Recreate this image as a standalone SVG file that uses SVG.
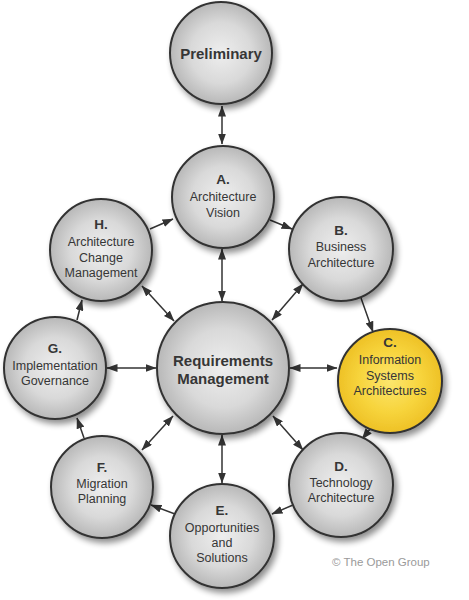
<svg xmlns="http://www.w3.org/2000/svg" width="469" height="600" viewBox="0 0 469 600">
<defs>
<radialGradient id="gGray" cx="50%" cy="50%" r="50%">
<stop offset="0" stop-color="#eeeeee"/>
<stop offset="0.6" stop-color="#d9d9d9"/>
<stop offset="1" stop-color="#b8b8b8"/>
</radialGradient>
<radialGradient id="gYel" cx="50%" cy="50%" r="50%">
<stop offset="0" stop-color="#fce66e"/>
<stop offset="0.6" stop-color="#f7d43c"/>
<stop offset="1" stop-color="#eec126"/>
</radialGradient>
<filter id="sh" x="-20%" y="-20%" width="150%" height="150%">
<feGaussianBlur in="SourceAlpha" stdDeviation="3"/>
<feOffset dx="3" dy="4" result="b"/>
<feComponentTransfer><feFuncA type="linear" slope="0.45"/></feComponentTransfer>
<feMerge><feMergeNode/><feMergeNode in="SourceGraphic"/></feMerge>
</filter>
<marker id="ah" viewBox="0 0 11 8" refX="10.5" refY="4" markerWidth="11" markerHeight="8" markerUnits="userSpaceOnUse" orient="auto-start-reverse">
<path d="M0,0 L11,4 L0,8 z" fill="#333"/>
</marker>
</defs>
<style>
.n{fill:url(#gGray);stroke:#333;stroke-width:2;filter:url(#sh)}
.y{fill:url(#gYel)}
.t{font-family:"Liberation Sans",Arial,sans-serif;font-size:12.5px;fill:#363636;text-anchor:middle}
.b{font-weight:bold;font-size:13.5px}
.bb{font-family:"Liberation Sans",Arial,sans-serif;font-weight:bold;font-size:15px;fill:#363636;text-anchor:middle}
.c line{stroke:#333;stroke-width:1.5;fill:none}
.s{marker-end:url(#ah)}
.d{marker-start:url(#ah);marker-end:url(#ah)}
</style>
<rect width="469" height="600" fill="#fff"/>
<g id="connectors" class="c">
<line class="d" x1="222" y1="106" x2="222" y2="144"/>
<line class="s" x1="270" y1="220" x2="292" y2="229"/>
<line class="s" x1="150" y1="229" x2="173" y2="219"/>
<line class="s" x1="361" y1="298" x2="373" y2="332"/>
<line class="s" x1="371" y1="428" x2="362" y2="439"/>
<line class="s" x1="293" y1="505" x2="272" y2="514"/>
<line class="s" x1="175" y1="514" x2="151" y2="505"/>
<line class="s" x1="84" y1="438" x2="77" y2="418"/>
<line class="s" x1="77" y1="320" x2="82" y2="300"/>
<line class="d" x1="222" y1="249" x2="222" y2="301"/>
<line class="d" x1="142" y1="286" x2="174" y2="321"/>
<line class="d" x1="303" y1="284" x2="272" y2="320"/>
<line class="d" x1="290" y1="368" x2="337" y2="368"/>
<line class="d" x1="107" y1="368" x2="156" y2="368"/>
<line class="d" x1="142" y1="450" x2="173" y2="416"/>
<line class="d" x1="273" y1="416" x2="303" y2="450"/>
<line class="d" x1="222" y1="435" x2="222" y2="483"/>
</g>
<g id="preliminary">
<circle class="n" cx="221" cy="53" r="51"/>
<text class="bb" x="221" y="59">Preliminary</text>
</g>
<g id="a-vision">
<circle class="n" cx="223" cy="197" r="51"/>
<text class="t b" x="223" y="184">A.</text>
<text class="t" x="223" y="201">Architecture</text>
<text class="t" x="223" y="217">Vision</text>
</g>
<g id="b-business">
<circle class="n" cx="341" cy="249" r="52"/>
<text class="t b" x="341" y="235">B.</text>
<text class="t" x="341" y="251">Business</text>
<text class="t" x="341" y="267">Architecture</text>
</g>
<g id="c-infosys">
<circle class="n y" cx="390" cy="381" r="52"/>
<text class="t b" x="390" y="347">C.</text>
<text class="t" x="390" y="364">Information</text>
<text class="t" x="390" y="380">Systems</text>
<text class="t" x="390" y="395">Architectures</text>
</g>
<g id="d-technology">
<circle class="n" cx="341" cy="485" r="52"/>
<text class="t b" x="341" y="471">D.</text>
<text class="t" x="341" y="487">Technology</text>
<text class="t" x="341" y="502">Architecture</text>
</g>
<g id="e-opportunities">
<circle class="n" cx="222" cy="536" r="52"/>
<text class="t b" x="222" y="515">E.</text>
<text class="t" x="222" y="532">Opportunities</text>
<text class="t" x="222" y="547">and</text>
<text class="t" x="222" y="562">Solutions</text>
</g>
<g id="f-migration">
<circle class="n" cx="102" cy="487" r="51"/>
<text class="t b" x="102" y="472">F.</text>
<text class="t" x="102" y="488">Migration</text>
<text class="t" x="102" y="503">Planning</text>
</g>
<g id="g-governance">
<circle class="n" cx="55" cy="368" r="51"/>
<text class="t b" x="55" y="353">G.</text>
<text class="t" x="55" y="370">Implementation</text>
<text class="t" x="55" y="385">Governance</text>
</g>
<g id="h-change">
<circle class="n" cx="101" cy="250" r="51"/>
<text class="t b" x="101" y="229">H.</text>
<text class="t" x="101" y="246">Architecture</text>
<text class="t" x="101" y="262">Change</text>
<text class="t" x="101" y="277">Management</text>
</g>
<g id="requirements">
<circle class="n" cx="223" cy="368" r="66"/>
<text class="bb" x="223" y="366">Requirements</text>
<text class="bb" x="223" y="384">Management</text>
</g>
<text x="332" y="566" font-family="Liberation Sans, Arial, sans-serif" font-size="11.5" fill="#9a9a9a">© The Open Group</text>
</svg>
